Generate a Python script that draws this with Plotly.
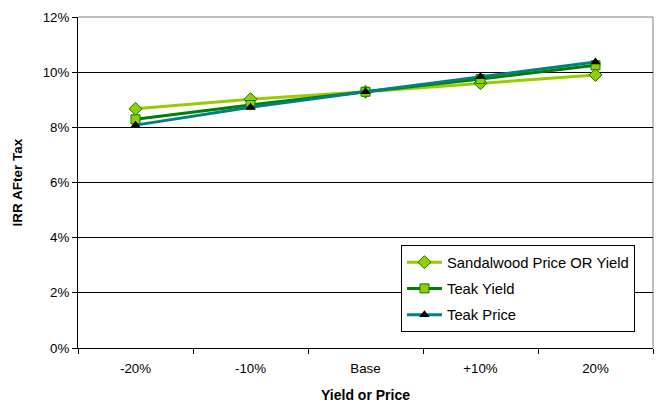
import plotly.graph_objects as go

categories = ["-20%", "-10%", "Base", "+10%", "20%"]
sandalwood = [8.67, 9.02, 9.29, 9.60, 9.90]
teak_yield = [8.29, 8.81, 9.29, 9.75, 10.25]
teak_price = [8.08, 8.73, 9.29, 9.84, 10.37]
y_ticks = [0, 2, 4, 6, 8, 10, 12]
y_labels = ["0%", "2%", "4%", "6%", "8%", "10%", "12%"]

FONT = "Liberation Sans, Arial, sans-serif"

fig = go.Figure()
fig.add_trace(go.Scatter(
    x=categories, y=sandalwood, name="Sandalwood Price OR Yield", mode="lines+markers",
    line=dict(color="#99CC00", width=3),
    marker=dict(symbol="diamond", size=10, color="#99CC00", line=dict(color="#008000", width=1)),
    legendgroup="a"))
fig.add_trace(go.Scatter(
    x=categories, y=teak_yield, name="Teak Yield", mode="lines+markers",
    line=dict(color="#008000", width=3),
    marker=dict(symbol="square", size=9, color="#99CC00", line=dict(color="#008000", width=1)),
    legendgroup="b"))
fig.add_trace(go.Scatter(
    x=categories, y=teak_price, name="Teak Price", mode="lines+markers",
    line=dict(color="#008080", width=3),
    marker=dict(symbol="triangle-up", size=9, color="#000000", line=dict(color="#000000", width=0)),
    legendgroup="c"))

fig.update_layout(
    width=659, height=403,
    margin=dict(l=78, r=6, t=17, b=55),
    paper_bgcolor="white", plot_bgcolor="white",
    font=dict(family=FONT, size=13, color="black"),
    showlegend=True,
    legend=dict(x=0.5617, y=0.311, xanchor="left", yanchor="top",
                bordercolor="black", borderwidth=1, bgcolor="white",
                font=dict(family=FONT, size=14.8), tracegroupgap=4,
                itemwidth=35),
    xaxis=dict(type="category", tickson="boundaries", ticks="outside", ticklen=5,
               tickcolor="black", showline=True, linecolor="black", linewidth=1,
               showgrid=False, range=[-0.5, 4.5], ticklabelstandoff=8, automargin=False,
               title=dict(text="<b>Yield or Price</b>", font=dict(size=14), standoff=15),
               tickfont=dict(size=13.3)),
    yaxis=dict(range=[0, 12], tickvals=y_ticks, ticktext=y_labels, ticks="outside", ticklen=5,
               tickcolor="black", showline=True, linecolor="black", linewidth=1,
               showgrid=True, gridcolor="black", gridwidth=1, zeroline=False, automargin=False,
               title=dict(text="<b>IRR AFter Tax</b>", font=dict(size=13.5), standoff=16),
               tickfont=dict(size=13.3)),
    shapes=[
        dict(type="line", xref="paper", yref="paper", x0=0, x1=1, y0=1, y1=1,
             line=dict(color="#808080", width=1), layer="below"),
        dict(type="line", xref="paper", yref="paper", x0=1, x1=1, y0=0, y1=1,
             line=dict(color="#808080", width=1), layer="below"),
    ],
)

fig.write_html("out.html")
